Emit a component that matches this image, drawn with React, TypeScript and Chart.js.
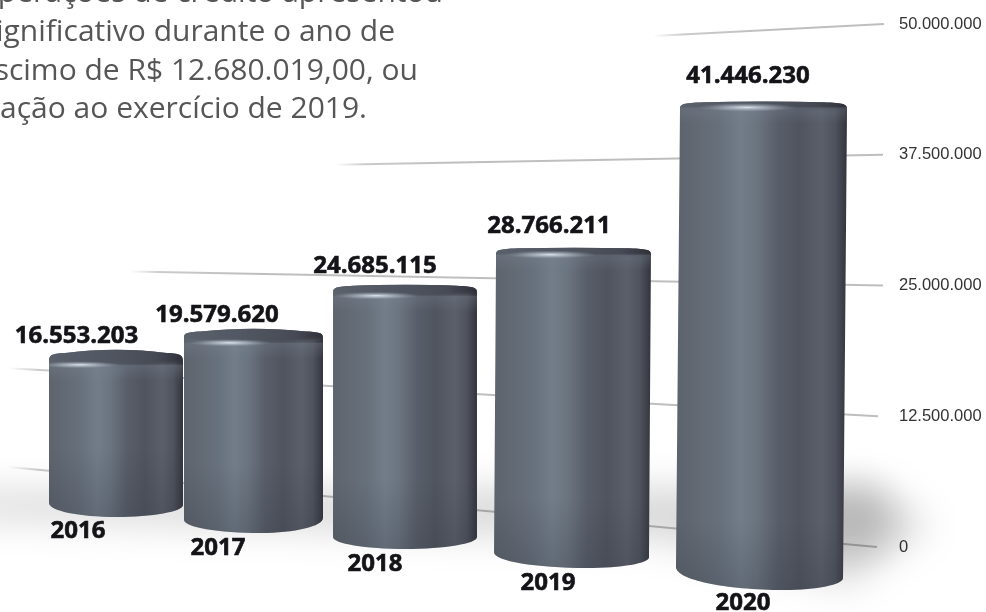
import React, { useEffect, useRef } from "react";
import { Chart, registerables } from "chart.js";

Chart.register(...registerables);

// Credit operations, in R$
const years = ["2016", "2017", "2018", "2019", "2020"];
const balances = [16553203, 19579620, 24685115, 28766211, 41446230];
const axisStep = 12500000;
const axisMax = 50000000;

const introLines = [
  "operações de crédito apresentou",
  "significativo durante o ano de",
  "acréscimo de R$ 12.680.019,00, ou",
  "relação ao exercício de 2019.",
];
const introEnds = [
  { x: 443, y: 2 },
  { x: 395, y: 41 },
  { x: 418, y: 80 },
  { x: 367, y: 118 },
];

// Perspective of each cylinder on the receding floor
const shiftX = [27, -13.5, -40, -49.5, -37.5];
const widen = [0.941, 0.976, 1.011, 1.088, 1.173];
const depth = [0.9656, 0.997, 1.0236, 1.0647, 1.127];
const floorDrop = [-30, -14, 2, 21, 43];
const lean = [0, 0, 0, -2, -4];
const footTilt = [1, -1, 0, 2.5, 5.5];
const footHeight = [13, 14, 12, 13, 17.5];
const footLow = [0.5, 0.55, 0.5, 0.6, 0.65];
const shoulder = [12, 9, 8, 7, 8];
const rimDrop = [3, 2.5, 1, 0.6, 0.8];
const capFront = [15, 14, 11, 7, 6];
const glint = [0.23, 0.33, 0.3, 0.35, 0.4];
const valueOffset = [
  { x: -39.5, y: -7 },
  { x: -36.5, y: -7 },
  { x: -30, y: -12 },
  { x: -24.5, y: -15 },
  { x: -15.5, y: -18 },
];
const yearAnchor = [
  { x: 78, y: 538 },
  { x: 218, y: 555 },
  { x: 375, y: 571 },
  { x: 548, y: 590 },
  { x: 743, y: 610 },
];

// Receding gridlines: far end relative to the tick, near end at the tick
const gridFar = [
  { x: 8, dy: -80 },
  { x: 8, dy: -48 },
  { x: 130, dy: -14 },
  { x: 335, dy: 10 },
  { x: 653, dy: 12 },
];
const gridNearX = [877, 878, 883, 883, 884];

const labelFont = '700 24px "Open Sans"';

function geometry(chart: any, i: number) {
  const meta = chart.getDatasetMeta(0);
  const el = meta.data[i];
  const yScale = chart.scales.y;
  const zero = yScale.getPixelForValue(0);
  const cx = el.x + shiftX[i];
  const w = el.width * widen[i];
  const bottom = zero + floorDrop[i];
  const top = bottom - (zero - el.y) * depth[i];
  return { cx, w, top, bottom, x0: cx - w / 2, x1: cx + w / 2 };
}

function outline(ctx: CanvasRenderingContext2D, g: any, i: number) {
  const yS = g.top + shoulder[i];
  const xL = g.x0 + lean[i];
  const xR = g.x1 + lean[i];
  const sideY = g.bottom - footHeight[i];
  const yL = sideY - footTilt[i];
  const yR = sideY + footTilt[i];
  const lowX = xL + (xR - xL) * footLow[i];
  const rim = g.top + rimDrop[i];
  ctx.beginPath();
  ctx.moveTo(xL, yL);
  ctx.lineTo(g.x0, yS);
  ctx.bezierCurveTo(g.x0, rim + 1.7, g.x0 + 3, rim + 0.8, g.x0 + g.w * 0.14, rim);
  ctx.quadraticCurveTo(g.x0 + g.w * 0.3, g.top, g.cx, g.top);
  ctx.quadraticCurveTo(g.x1 - g.w * 0.3, g.top, g.x1 - g.w * 0.14, rim);
  ctx.bezierCurveTo(g.x1 - 3, rim + 0.8, g.x1, rim + 1.7, g.x1, yS);
  ctx.lineTo(xR, yR);
  ctx.bezierCurveTo(xR, yR + (g.bottom - yR) * 0.55, xR - (xR - lowX) * 0.45, g.bottom, lowX, g.bottom);
  ctx.bezierCurveTo(lowX - (lowX - xL) * 0.55, g.bottom, xL, yL + (g.bottom - yL) * 0.55, xL, yL);
  ctx.closePath();
}

function drawCylinder(ctx: CanvasRenderingContext2D, g: any, i: number) {
  ctx.save();
  outline(ctx, g, i);
  ctx.clip();

  const side = ctx.createLinearGradient(g.x0 - 4, 0, g.x1, 0);
  side.addColorStop(0, "#5c636d");
  side.addColorStop(0.12, "#626973");
  side.addColorStop(0.26, "#67717c");
  side.addColorStop(0.38, "#727d89");
  side.addColorStop(0.47, "#6b7580");
  side.addColorStop(0.6, "#585e69");
  side.addColorStop(0.72, "#50545f");
  side.addColorStop(0.85, "#5a5f6a");
  side.addColorStop(0.93, "#4f535d");
  side.addColorStop(1, "#33343d");
  ctx.fillStyle = side;
  ctx.fillRect(g.x0 - 8, g.top - 2, g.w + 16, g.bottom - g.top + 4);

  // Darkening toward the foot of the cylinder
  const foot = ctx.createLinearGradient(0, g.bottom - 70, 0, g.bottom);
  foot.addColorStop(0, "rgba(45,50,60,0)");
  foot.addColorStop(1, "rgba(45,50,60,0.24)");
  ctx.fillStyle = foot;
  ctx.fillRect(g.x0 - 8, g.bottom - 70, g.w + 16, 72);

  // Top face, seen from just above, with a soft rim
  const yS = g.top + shoulder[i];
  const front = g.top + capFront[i];
  const cap = ctx.createLinearGradient(g.x0, 0, g.x1, 0);
  cap.addColorStop(0, "#5b616b");
  cap.addColorStop(0.4, "#525863");
  cap.addColorStop(0.8, "#464a54");
  cap.addColorStop(1, "#2f3039");
  ctx.save();
  ctx.filter = "blur(1.5px)";
  ctx.fillStyle = cap;
  ctx.beginPath();
  ctx.moveTo(g.x0 - 6, yS);
  ctx.lineTo(g.x0, yS);
  ctx.bezierCurveTo(g.x0 + g.w * 0.2, front + 1, g.x1 - g.w * 0.2, front + 1, g.x1, yS);
  ctx.lineTo(g.x1 + 6, yS);
  ctx.lineTo(g.x1 + 6, g.top - 6);
  ctx.lineTo(g.x0 - 6, g.top - 6);
  ctx.closePath();
  ctx.fill();
  ctx.restore();

  // Soft roll-off under the rim
  const roll = ctx.createLinearGradient(0, front, 0, front + 16);
  roll.addColorStop(0, "rgba(125,135,148,0.3)");
  roll.addColorStop(1, "rgba(125,135,148,0)");
  ctx.fillStyle = roll;
  ctx.fillRect(g.x0, front, g.w, 16);

  // Glint on the rim
  const gx = g.x0 + g.w * glint[i];
  const gy = front;
  ctx.save();
  ctx.translate(gx, gy);
  ctx.scale(1, 0.09);
  const shine = ctx.createRadialGradient(0, 0, 0, 0, 0, g.w * 0.3);
  shine.addColorStop(0, "rgba(226,234,242,0.95)");
  shine.addColorStop(0.55, "rgba(190,200,212,0.45)");
  shine.addColorStop(1, "rgba(150,160,172,0)");
  ctx.fillStyle = shine;
  ctx.beginPath();
  ctx.arc(0, 0, g.w * 0.3, 0, Math.PI * 2);
  ctx.fill();
  ctx.restore();

  ctx.restore();
}

const perspectivePlugin = {
  id: "perspectiveCylinders",
  beforeDatasetDraw(chart: any) {
    const ctx: CanvasRenderingContext2D = chart.ctx;
    const yScale = chart.scales.y;

    // Receding gridlines
    yScale.ticks.forEach((_: any, t: number) => {
      const y = yScale.getPixelForTick(t);
      const far = gridFar[t];
      const nearX = gridNearX[t];
      const stroke = ctx.createLinearGradient(far.x, 0, far.x + Math.min(120, nearX - far.x), 0);
      stroke.addColorStop(0, "rgba(190,190,190,0)");
      stroke.addColorStop(0.25, "rgba(190,190,190,0.8)");
      stroke.addColorStop(1, "rgba(190,190,190,1)");
      ctx.strokeStyle = stroke;
      ctx.lineWidth = 2;
      ctx.beginPath();
      ctx.moveTo(far.x, y + far.dy);
      ctx.lineTo(nearX, y);
      ctx.stroke();
    });

    // Floor shade: a wide soft band, heavier around the tallest cylinder
    ctx.save();
    ctx.filter = "blur(18px)";
    ctx.fillStyle = "rgba(0,0,0,0.15)";
    ctx.beginPath();
    ctx.moveTo(-40, 492);
    ctx.lineTo(880, 486);
    ctx.lineTo(930, 525);
    ctx.lineTo(850, 585);
    ctx.lineTo(660, 540);
    ctx.lineTo(-40, 518);
    ctx.closePath();
    ctx.fill();
    const tall = geometry(chart, 4);
    ctx.fillStyle = "rgba(0,0,0,0.16)";
    ctx.beginPath();
    ctx.ellipse(tall.x1 + 4, tall.bottom - 72, 40, 36, 0, 0, Math.PI * 2);
    ctx.fill();
    ctx.restore();

    balances.forEach((_, i) => drawCylinder(ctx, geometry(chart, i), i));

    // Value and year captions
    ctx.save();
    ctx.font = labelFont;
    ctx.fillStyle = "#141418";
    ctx.strokeStyle = "#141418";
    ctx.lineWidth = 0.6;
    ctx.textAlign = "center";
    ctx.textBaseline = "alphabetic";
    chart.data.datasets[0].data.forEach((v: number, i: number) => {
      const g = geometry(chart, i);
      const text = v.toLocaleString("pt-BR");
      const vx = g.cx + valueOffset[i].x;
      const vy = g.top + valueOffset[i].y;
      ctx.fillText(text, vx, vy);
      ctx.strokeText(text, vx, vy);
      const year = String(chart.data.labels[i]);
      ctx.fillText(year, yearAnchor[i].x, yearAnchor[i].y);
      ctx.strokeText(year, yearAnchor[i].x, yearAnchor[i].y);
    });
    ctx.restore();

    return false;
  },
  afterDraw(chart: any) {
    const ctx: CanvasRenderingContext2D = chart.ctx;
    ctx.save();
    ctx.font = '400 30px "Open Sans"';
    ctx.fillStyle = "#565656";
    ctx.textAlign = "right";
    ctx.textBaseline = "alphabetic";
    introLines.forEach((line, i) => ctx.fillText(line, introEnds[i].x, introEnds[i].y));
    ctx.restore();
  },
};

export default function App() {
  const canvasRef = useRef<HTMLCanvasElement | null>(null);

  useEffect(() => {
    if (!canvasRef.current) return;
    const chart = new Chart(canvasRef.current, {
      type: "bar",
      data: {
        labels: years,
        datasets: [
          {
            data: balances,
            backgroundColor: "#5f6670",
            barPercentage: 0.8,
            categoryPercentage: 1,
          },
        ],
      },
      options: {
        animation: false,
        responsive: false,
        layout: { padding: { top: 24, bottom: 65, left: 0, right: 0 } },
        plugins: { legend: { display: false }, tooltip: { enabled: false } },
        scales: {
          x: { display: false },
          y: {
            position: "right",
            min: 0,
            max: axisMax,
            afterFit: (scale: any) => {
              scale.width = 96;
            },
            border: { display: false },
            grid: { display: false, drawTicks: false },
            ticks: {
              stepSize: axisStep,
              padding: 9,
              color: "#333333",
              font: { family: '"Liberation Sans"', size: 16.5 },
              callback: (v: any) => Number(v).toLocaleString("pt-BR"),
            },
          },
        },
      },
      plugins: [perspectivePlugin],
    } as any);
    return () => chart.destroy();
  }, []);

  return (
    <div style={{ position: "fixed", left: 0, top: 0, width: 986, height: 612, background: "#fff" }}>
      <canvas ref={canvasRef} width={986} height={612} style={{ display: "block" }} />
    </div>
  );
}
